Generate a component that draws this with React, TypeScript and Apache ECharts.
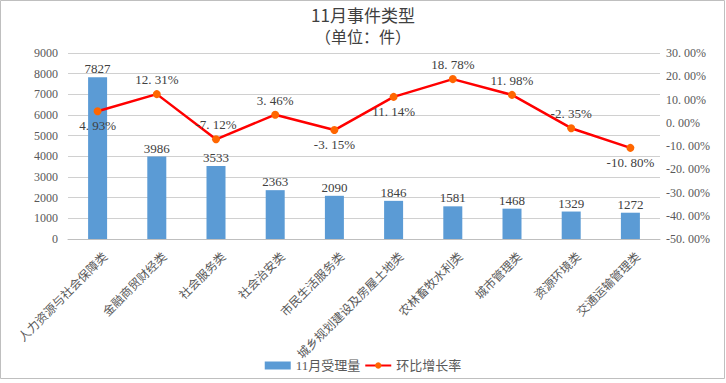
import React, { useEffect, useRef } from "react";
import * as echarts from "echarts";

const categories = ["人力资源与社会保障类", "金融商贸财经类", "社会服务类", "社会治安类", "市民生活服务类", "城乡规划建设及房屋土地类", "农林畜牧水利类", "城市管理类", "资源环境类", "交通运输管理类"];
const counts = [7827, 3986, 3533, 2363, 2090, 1846, 1581, 1468, 1329, 1272];
const growth = [4.93, 12.31, -7.12, 3.46, -3.15, 11.14, 18.78, 11.98, -2.35, -10.8];
const growthLabelPos = ["bottom", "top", "top", "top", "bottom", "bottom", "top", "top", "top", "bottom"];

const serif = "'Liberation Serif', 'DejaVu Serif', 'Noto Sans CJK SC', serif";
const sans = "'Noto Sans CJK SC', sans-serif";
const gray = "#595959";

export default function App() {
  const ref = useRef<HTMLDivElement>(null);
  useEffect(() => {
    document.body.style.margin = "0";
    const chart = echarts.init(ref.current!, undefined, { renderer: "svg" });
    chart.setOption({
      animation: false,
      backgroundColor: "#fff",
      title: [
        {
          text: "11月事件类型",
          left: "center",
          top: 5,
          padding: 0,
          textStyle: { fontFamily: sans, fontSize: 17, fontWeight: "normal", color: "#404040", lineHeight: 18 },
        },
        {
          text: "（单位：件）",
          left: "center",
          top: 27,
          padding: 0,
          textStyle: { fontFamily: sans, fontSize: 16, fontWeight: "normal", color: "#404040", lineHeight: 17 },
        },
      ],
      graphic: [
        { type: "rect", shape: { x: 0.5, y: 0.5, width: 724, height: 378 }, style: { fill: "none", stroke: "#bfbfbf", lineWidth: 1 }, silent: true },
      ],
      grid: { left: 68, right: 66, top: 53, bottom: 144, containLabel: false },
      legend: {
        bottom: 6,
        left: "center",
        itemGap: 4,
        textStyle: { fontFamily: serif, fontSize: 13, color: gray },
        data: [
          { name: "11月受理量", icon: "rect", itemWidth: 26, itemHeight: 7 },
          { name: "环比增长率" },
        ],
        itemWidth: 26,
        itemHeight: 8,
      },
      xAxis: {
        type: "category",
        data: categories,
        axisLine: { lineStyle: { color: "#bfbfbf" } },
        axisTick: { show: false },
        axisLabel: {
          rotate: 45,
          interval: 0,
          fontFamily: serif,
          fontSize: 12,
          color: gray,
          margin: 8,
          verticalAlign: "top",
          padding: [5, 0, 0, 0],
        },
      },
      yAxis: [
        {
          type: "value",
          min: 0,
          max: 9000,
          interval: 1000,
          axisLine: { show: false },
          axisTick: { show: false },
          splitLine: { lineStyle: { color: "#d0d0d0" } },
          axisLabel: { fontFamily: serif, fontSize: 12, color: gray, margin: 10, formatter: (v: number) => String(v) },
        },
        {
          type: "value",
          min: -50,
          max: 30,
          interval: 10,
          axisLine: { show: false },
          axisTick: { show: false },
          splitLine: { show: false },
          axisLabel: { fontFamily: serif, fontSize: 12, color: gray, margin: 6, formatter: (v: number) => v.toFixed(2).replace(".", ". ") + "%" },
        },
      ],
      series: [
        {
          name: "11月受理量",
          type: "bar",
          data: counts,
          barWidth: 19,
          itemStyle: { color: "#5b9bd5" },
          label: { show: true, position: "top", distance: 2, fontFamily: serif, fontSize: 13, color: "#404040" },
        },
        {
          name: "环比增长率",
          type: "line",
          yAxisIndex: 1,
          data: growth.map((v, i) => ({
            value: v,
            label: { position: growthLabelPos[i] },
          })),
          symbol: "circle",
          symbolSize: 8,
          lineStyle: { color: "#ff0000", width: 2.5 },
          itemStyle: { color: "#ff6600" },
          label: {
            show: true,
            fontFamily: serif,
            fontSize: 13,
            color: "#404040",
            distance: 4,
            formatter: (p: any) => p.value.toFixed(2).replace(".", ". ") + "%",
          },
        },
      ],
    });
    return () => chart.dispose();
  }, []);
  return <div ref={ref} style={{ position: "fixed", left: 0, top: 0, width: 726, height: 383 }} />;
}
